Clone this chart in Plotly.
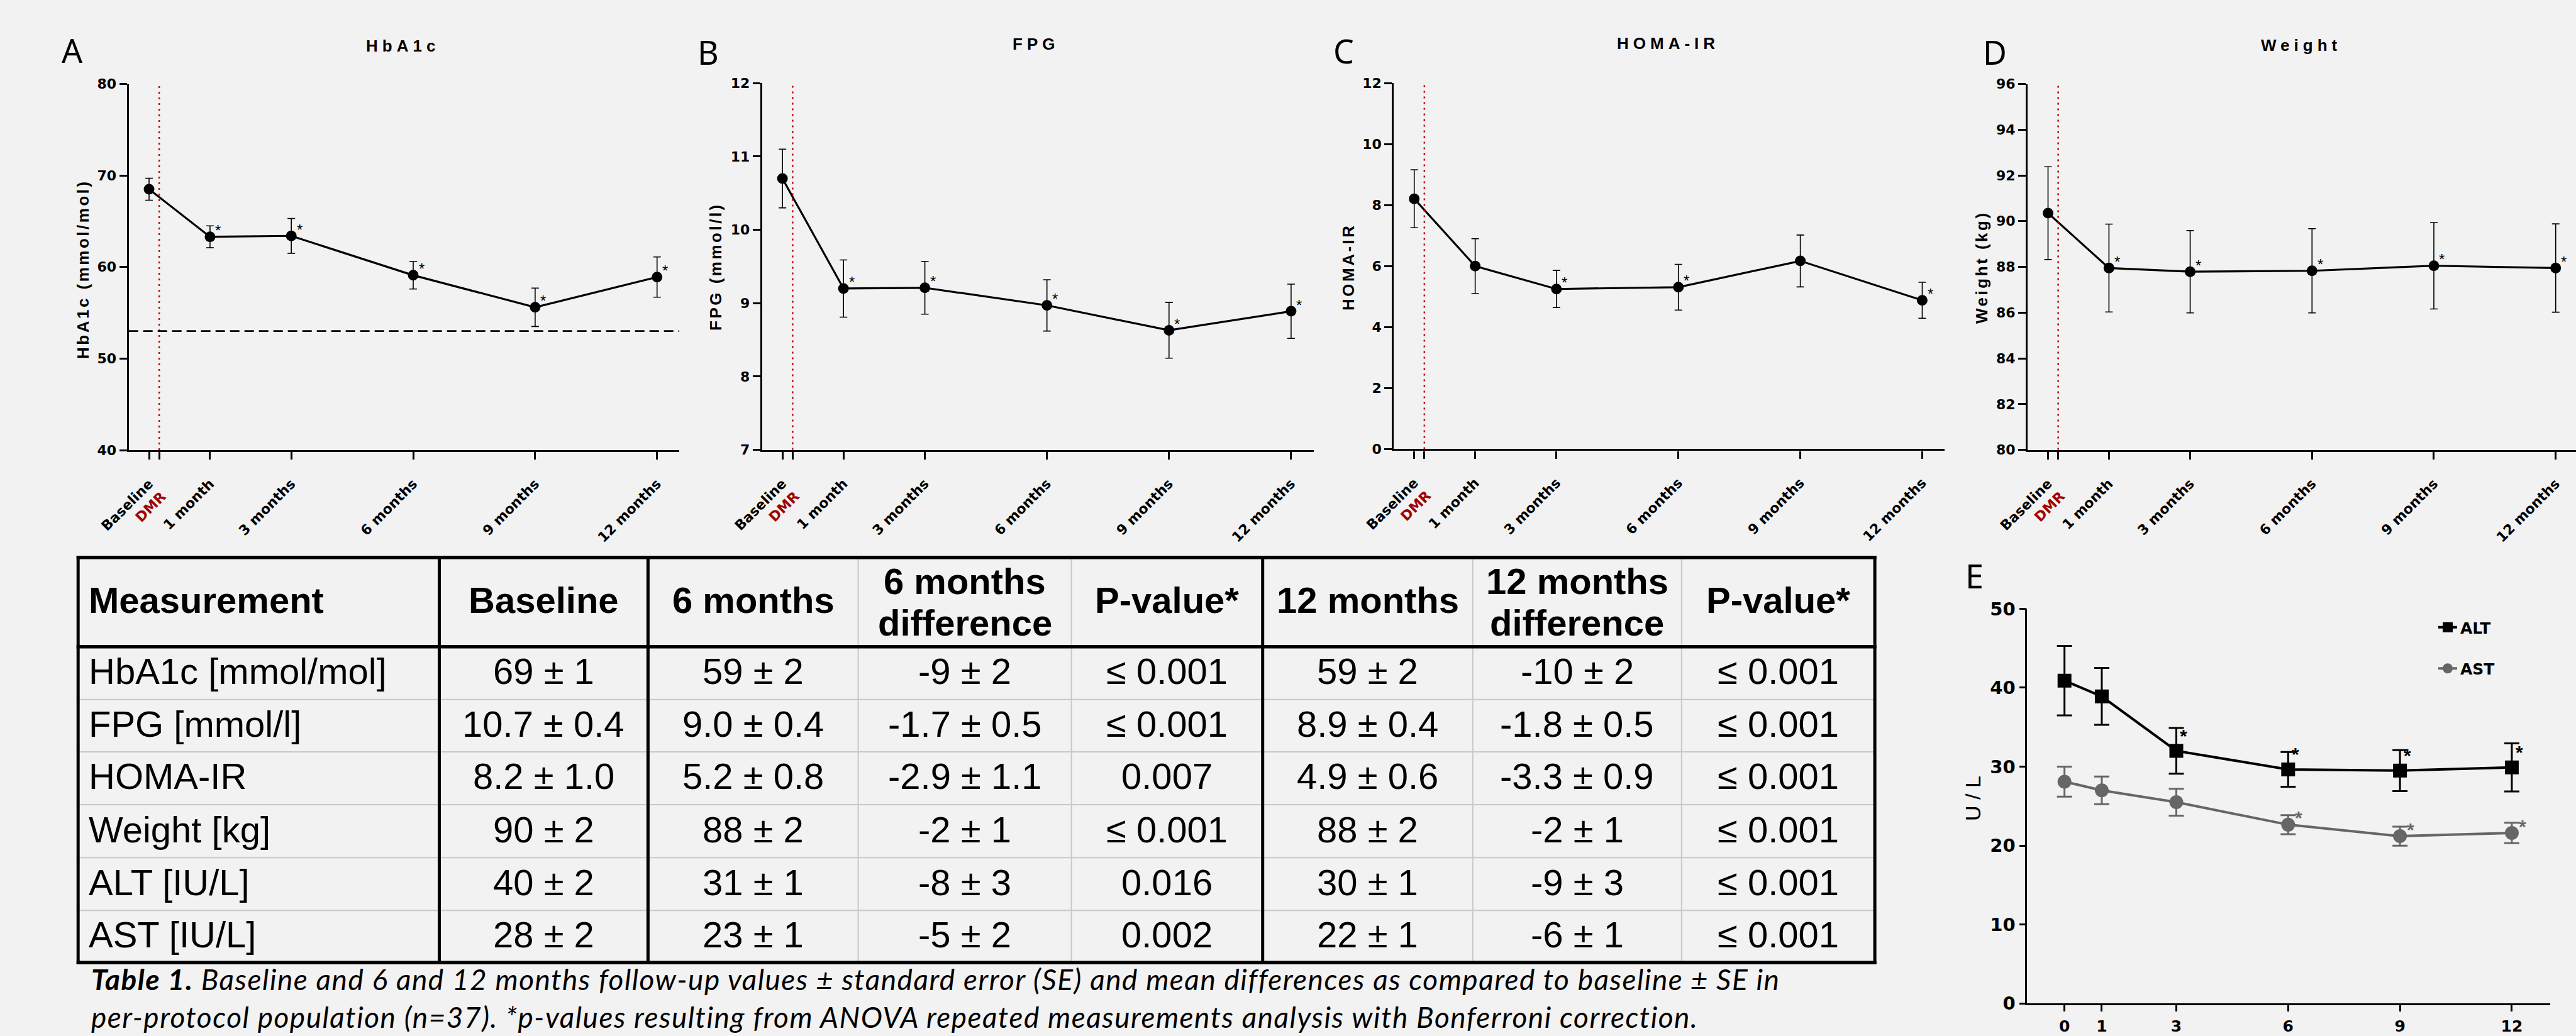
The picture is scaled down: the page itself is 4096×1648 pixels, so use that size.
import plotly.graph_objects as go

# ---------------- data ----------------
timepoints = ["Baseline", "1 month", "3 months", "6 months", "9 months", "12 months"]
months = [0, 1, 3, 6, 9, 12]
procedure_label = "DMR"

hba1c_mean = [68.5, 63.3, 63.4, 59.1, 55.6, 58.9]
hba1c_se = [1.2, 1.2, 1.9, 1.5, 2.1, 2.2]
hba1c_sig = [False, True, True, True, True, True]
hba1c_target = 53

fpg_mean = [10.70, 9.20, 9.21, 8.97, 8.63, 8.89]
fpg_se = [0.40, 0.39, 0.36, 0.35, 0.38, 0.37]
fpg_sig = [False, True, True, True, True, True]

homa_mean = [8.21, 6.00, 5.25, 5.31, 6.17, 4.88]
homa_se = [0.95, 0.90, 0.61, 0.75, 0.85, 0.59]
homa_sig = [False, False, True, True, False, True]

weight_mean = [90.35, 87.95, 87.79, 87.83, 88.05, 87.95]
weight_se = [2.03, 1.92, 1.80, 1.84, 1.89, 1.93]
weight_sig = [False, True, True, True, True, True]

alt_mean = [40.9, 38.9, 32.0, 29.65, 29.5, 29.9]
alt_se = [4.4, 3.6, 2.9, 2.2, 2.6, 3.05]
alt_sig = [False, False, True, True, True, True]

ast_mean = [28.1, 27.0, 25.5, 22.65, 21.2, 21.6]
ast_se = [1.9, 1.75, 1.7, 1.2, 1.2, 1.3]
ast_sig = [False, False, False, True, True, True]

table_header = ["Measurement", "Baseline", "6 months", "6 months|difference", "P-value*",
                "12 months", "12 months|difference", "P-value*"]
table_measure = ["HbA1c [mmol/mol]", "FPG [mmol/l]", "HOMA-IR", "Weight [kg]", "ALT [IU/L]", "AST [IU/L]"]
table_baseline = ["69 ± 1", "10.7 ± 0.4", "8.2 ± 1.0", "90 ± 2", "40 ± 2", "28 ± 2"]
table_6m = ["59 ± 2", "9.0 ± 0.4", "5.2 ± 0.8", "88 ± 2", "31 ± 1", "23 ± 1"]
table_6m_diff = ["-9 ± 2", "-1.7 ± 0.5", "-2.9 ± 1.1", "-2 ± 1", "-8 ± 3", "-5 ± 2"]
table_6m_p = ["≤ 0.001", "≤ 0.001", "0.007", "≤ 0.001", "0.016", "0.002"]
table_12m = ["59 ± 2", "8.9 ± 0.4", "4.9 ± 0.6", "88 ± 2", "30 ± 1", "22 ± 1"]
table_12m_diff = ["-10 ± 2", "-1.8 ± 0.5", "-3.3 ± 0.9", "-2 ± 1", "-9 ± 3", "-6 ± 1"]
table_12m_p = ["≤ 0.001", "≤ 0.001", "≤ 0.001", "≤ 0.001", "≤ 0.001", "≤ 0.001"]

caption_lines = [
    "<b>Table 1.</b> Baseline and 6 and 12 months follow-up values ± standard error (SE) and mean differences as compared to baseline ± SE in",
    "per-protocol population (n=37). *p-values resulting from ANOVA repeated measurements analysis with Bonferroni correction.",
]

# ---------------- layout helpers ----------------
W, H = 4096, 1648
BG = "#f2f2f2"
FONT = "Liberation Sans, Arial, sans-serif"
TICKFONT = "DejaVu Sans, Liberation Sans, sans-serif"
RED = "#a00000"
GRAY = "#666666"


def px(x):
    return x / W


def py(y):
    return 1 - y / H


def ls(text, sp, extra=""):
    return f"<span style='letter-spacing:{sp}px{extra}'>{text}</span>"


BASELINE_POS = -0.5
DMR_POS = -0.25

fig = go.Figure()
annotations = []
shapes = []
layout_axes = {}

panels = [
    dict(letter="A", title="HbA1c", ytitle="HbA1c (mmol/mol)", mean=hba1c_mean, se=hba1c_se, sig=hba1c_sig,
         yr=[40, 80], dtick=10, x0=204.7, x1=1080.3, y0=133.5, y1=716, xmax=12.55,
         lxy=(115, 80), txy=(640, 73), yxy=(132, 428)),
    dict(letter="B", title="FPG", ytitle="FPG (mmol/l)", mean=fpg_mean, se=fpg_se, sig=fpg_sig,
         yr=[7, 12], dtick=1, x0=1211.8, x1=2088.5, y0=132.3, y1=715.6, xmax=12.55,
         lxy=(1126, 82), txy=(1647, 70), yxy=(1138, 424)),
    dict(letter="C", title="HOMA-IR", ytitle="HOMA-IR", mean=homa_mean, se=homa_se, sig=homa_sig,
         yr=[0, 12], dtick=2, x0=2216.4, x1=3092, y0=132.3, y1=714.4, xmax=12.55,
         lxy=(2136, 81), txy=(2652, 69), yxy=(2144, 425)),
    dict(letter="D", title="Weight", ytitle="Weight (kg)", mean=weight_mean, se=weight_se, sig=weight_sig,
         yr=[80, 96], dtick=2, x0=3224.2, x1=4096, y0=133.5, y1=715.6, xmax=12.5,
         lxy=(3172, 82), txy=(3659, 72), yxy=(3151, 425)),
]

xpos = [BASELINE_POS if m == 0 else m for m in months]

for i, p in enumerate(panels, start=1):
    xa = "x" if i == 1 else f"x{i}"
    ya = "y" if i == 1 else f"y{i}"
    xname = "xaxis" if i == 1 else f"xaxis{i}"
    yname = "yaxis" if i == 1 else f"yaxis{i}"

    fig.add_trace(go.Scatter(
        x=xpos, y=p["mean"], mode="lines+markers",
        line=dict(color="black", width=3.2),
        marker=dict(size=17, color="black"),
        error_y=dict(type="data", array=p["se"], visible=True, color="black", thickness=1.6, width=6),
        xaxis=xa, yaxis=ya, showlegend=False, hoverinfo="skip"))

    tickvals = [BASELINE_POS, DMR_POS] + months[1:]
    ticktext = [timepoints[0] + "<br>" + f"<span style='color:{RED}'>{procedure_label}</span>", ""] + \
               list(timepoints[1:])
    layout_axes[xname] = dict(
        domain=[px(p["x0"]), px(p["x1"])], range=[-1, p["xmax"]], anchor=ya, automargin=False,
        showline=True, linecolor="black", linewidth=3.2, ticks="outside", ticklen=12, tickwidth=2.5,
        tickcolor="black", tickvals=tickvals, ticktext=ticktext, tickangle=-45, ticklabelstandoff=17,
        tickfont=dict(family=TICKFONT, size=22, color="black", weight="bold"),
        showgrid=False, zeroline=False)
    yt = list(range(p["yr"][0], p["yr"][1] + 1, p["dtick"]))
    layout_axes[yname] = dict(
        domain=[py(p["y1"]), py(p["y0"])], range=p["yr"], anchor=xa, automargin=False,
        showline=True, linecolor="black", linewidth=3.2, ticks="outside", ticklen=12, tickwidth=2.5,
        tickcolor="black", tickvals=yt, ticktext=[str(v) for v in yt],
        tickfont=dict(family=TICKFONT, size=22, color="black", weight="bold"),
        showgrid=False, zeroline=False)

    # procedure marker line
    shapes.append(dict(type="line", xref=xa, yref=f"{ya} domain", x0=DMR_POS, x1=DMR_POS, y0=0, y1=1,
                       line=dict(color="#c00000", width=2.5, dash="3px,6px")))
    # significance stars
    for xv, m, s in zip(xpos, p["mean"], p["sig"]):
        if s:
            annotations.append(dict(x=xv, y=m, xref=xa, yref=ya, text="*", showarrow=False,
                                    xshift=13, yshift=10, font=dict(family=FONT, size=24, color="black")))
    # panel letter, title, y-title
    annotations.append(dict(x=px(p["lxy"][0]), y=py(p["lxy"][1]), xref="paper", yref="paper",
                            text=p["letter"], showarrow=False, xanchor="center", yanchor="middle",
                            font=dict(family="Noto Sans", size=52, color="black")))
    annotations.append(dict(x=px(p["txy"][0]), y=py(p["txy"][1]), xref="paper", yref="paper",
                            text="<b>" + ls(p["title"], 7) + "</b>", showarrow=False,
                            xanchor="center", yanchor="middle",
                            font=dict(family=FONT, size=26, color="black")))
    annotations.append(dict(x=px(p["yxy"][0]), y=py(p["yxy"][1]), xref="paper", yref="paper",
                            text="<b>" + ls(p["ytitle"], 3.5) + "</b>", showarrow=False, textangle=-90,
                            xanchor="center", yanchor="middle",
                            font=dict(family=FONT, size=26, color="black")))

# HbA1c target line
shapes.append(dict(type="line", xref="x", yref="y", x0=-1, x1=12.55, y0=hba1c_target, y1=hba1c_target,
                   line=dict(color="black", width=2.8, dash="15px,8px")))

# ---------------- panel E ----------------
fig.add_trace(go.Scatter(
    x=months, y=alt_mean, mode="lines+markers", name="ALT", legendgroup="alt",
    line=dict(color="black", width=4),
    marker=dict(size=22, color="black", symbol="square"),
    error_y=dict(type="data", array=alt_se, visible=True, color="black", thickness=3, width=12),
    xaxis="x5", yaxis="y5", hoverinfo="skip"))
fig.add_trace(go.Scatter(
    x=months, y=ast_mean, mode="lines+markers", name="AST", legendgroup="ast",
    line=dict(color=GRAY, width=4),
    marker=dict(size=22, color=GRAY, symbol="circle"),
    error_y=dict(type="data", array=ast_se, visible=True, color=GRAY, thickness=3, width=12),
    xaxis="x5", yaxis="y5", hoverinfo="skip"))

layout_axes["xaxis5"] = dict(
    domain=[px(3223.4), px(4055)], range=[-1, 13.03], anchor="y5", automargin=False,
    showline=True, linecolor="black", linewidth=2.8, ticks="outside", ticklen=10, tickwidth=2.5,
    tickcolor="black", tickvals=months, ticktext=[str(m) for m in months], tickangle=0,
    ticklabelstandoff=2,
    tickfont=dict(family=TICKFONT, size=25, color="black", weight="bold"),
    showgrid=False, zeroline=False)
ytE = [0, 10, 20, 30, 40, 50]
layout_axes["yaxis5"] = dict(
    domain=[py(1596.3), py(968.4)], range=[0, 50], anchor="x5", automargin=False,
    showline=True, linecolor="black", linewidth=2.8, ticks="outside", ticklen=10, tickwidth=2.5,
    tickcolor="black", tickvals=ytE, ticktext=[str(v) for v in ytE],
    tickfont=dict(family=TICKFONT, size=29, color="black", weight="bold"),
    showgrid=False, zeroline=False)

for xv, m, s in zip(months, alt_mean, alt_sig):
    if s:
        annotations.append(dict(x=xv, y=m, xref="x5", yref="y5", text="*", showarrow=False,
                                xshift=12, yshift=24, font=dict(family=FONT, size=30, color="black", weight="bold")))
for xv, m, s in zip(months, ast_mean, ast_sig):
    if s:
        annotations.append(dict(x=xv, y=m, xref="x5", yref="y5", text="*", showarrow=False,
                                xshift=17, yshift=11, font=dict(family=FONT, size=30, color=GRAY, weight="bold")))

annotations.append(dict(x=px(3139), y=py(915), xref="paper", yref="paper", text="E", showarrow=False,
                        xanchor="center", yanchor="middle", font=dict(family="Noto Sans", size=52, color="black")))
annotations.append(dict(x=px(3137), y=py(1270), xref="paper", yref="paper", text="U / L", showarrow=False,
                        textangle=-90, xanchor="center", yanchor="middle",
                        font=dict(family=FONT, size=34, color="black")))

# ---------------- table ----------------
col_edges = [124.2, 698.5, 1030.4, 1364.6, 1703.6, 2007.7, 2341.7, 2673.8, 2981.1]
row_edges = [886.8, 1028.8, 1112.8, 1195.9, 1279.9, 1364.2, 1448.2, 1531.3]
thick_cols = {0, 1, 2, 5, 8}
thick_rows = {0, 1, 7}
THIN = "#c8c8c8"

for j, xe in enumerate(col_edges):
    if j not in thick_cols:
        shapes.append(dict(type="line", xref="paper", yref="paper", x0=px(xe), x1=px(xe),
                           y0=py(row_edges[0]), y1=py(row_edges[-1]), line=dict(color=THIN, width=2)))
for k, ye in enumerate(row_edges):
    if k not in thick_rows:
        shapes.append(dict(type="line", xref="paper", yref="paper", x0=px(col_edges[0]), x1=px(col_edges[-1]),
                           y0=py(ye), y1=py(ye), line=dict(color=THIN, width=2)))
for j, xe in enumerate(col_edges):
    if j in thick_cols:
        shapes.append(dict(type="line", xref="paper", yref="paper", x0=px(xe), x1=px(xe),
                           y0=py(row_edges[0] - 2.7), y1=py(row_edges[-1] + 2.7), line=dict(color="black", width=5)))
for k, ye in enumerate(row_edges):
    if k in thick_rows:
        shapes.append(dict(type="line", xref="paper", yref="paper", x0=px(col_edges[0] - 2.5), x1=px(col_edges[-1] + 2.5),
                           y0=py(ye), y1=py(ye), line=dict(color="black", width=5.5)))

TFS = 58
TY = -3  # small visual centring correction
hdr_cy = (row_edges[0] + row_edges[1]) / 2
for j, htxt in enumerate(table_header):
    cx = (col_edges[j] + col_edges[j + 1]) / 2
    if j == 0:
        xa_, anc = 139.4, "left"
    else:
        xa_, anc = cx, "center"
    parts = htxt.split("|")
    if len(parts) == 1:
        annotations.append(dict(x=px(xa_), y=py(hdr_cy + TY), xref="paper", yref="paper", text="<b>" + parts[0] + "</b>",
                                showarrow=False, xanchor=anc, yanchor="middle",
                                font=dict(family=FONT, size=TFS, color="black")))
    else:
        for off, part in zip([-33, 33], parts):
            annotations.append(dict(x=px(xa_), y=py(hdr_cy + 3 + off + TY), xref="paper", yref="paper",
                                    text="<b>" + part + "</b>", showarrow=False, xanchor=anc, yanchor="middle",
                                    font=dict(family=FONT, size=TFS, color="black")))

table_cols = [table_measure, table_baseline, table_6m, table_6m_diff, table_6m_p,
              table_12m, table_12m_diff, table_12m_p]
for j, col in enumerate(table_cols):
    cx = (col_edges[j] + col_edges[j + 1]) / 2
    for r, val in enumerate(col):
        cy = (row_edges[r + 1] + row_edges[r + 2]) / 2 + TY
        if j == 0:
            annotations.append(dict(x=px(139.4), y=py(cy), xref="paper", yref="paper", text=val,
                                    showarrow=False, xanchor="left", yanchor="middle",
                                    font=dict(family=FONT, size=TFS, color="black")))
        else:
            annotations.append(dict(x=px(cx), y=py(cy), xref="paper", yref="paper", text=val,
                                    showarrow=False, xanchor="center", yanchor="middle",
                                    font=dict(family=FONT, size=TFS, color="black")))

# caption (one text block, two lines)
caption_text = "<br>".join(ls("<i>" + line + "</i>", 1.5) for line in caption_lines)
annotations.append(dict(x=px(142.5), y=py(1647), xref="paper", yref="paper", text=caption_text,
                        showarrow=False, xanchor="left", yanchor="bottom", align="left",
                        font=dict(family="Lato, Noto Sans, sans-serif", size=46, color="black")))

fig.update_layout(
    width=W, height=H, autosize=False,
    margin=dict(l=0, r=0, t=0, b=0, autoexpand=False),
    paper_bgcolor=BG, plot_bgcolor=BG,
    annotations=annotations, shapes=shapes,
    legend=dict(x=px(3872), y=py(975), xanchor="left", yanchor="top", bgcolor="rgba(0,0,0,0)",
                font=dict(family=TICKFONT, size=25, color="black", weight="bold"),
                tracegroupgap=30, traceorder="grouped"),
    showlegend=True,
    **layout_axes,
)

fig.write_html("out.html", config={"displayModeBar": False},
               post_script="document.body.style.margin='0px';document.body.style.overflow='hidden';")
